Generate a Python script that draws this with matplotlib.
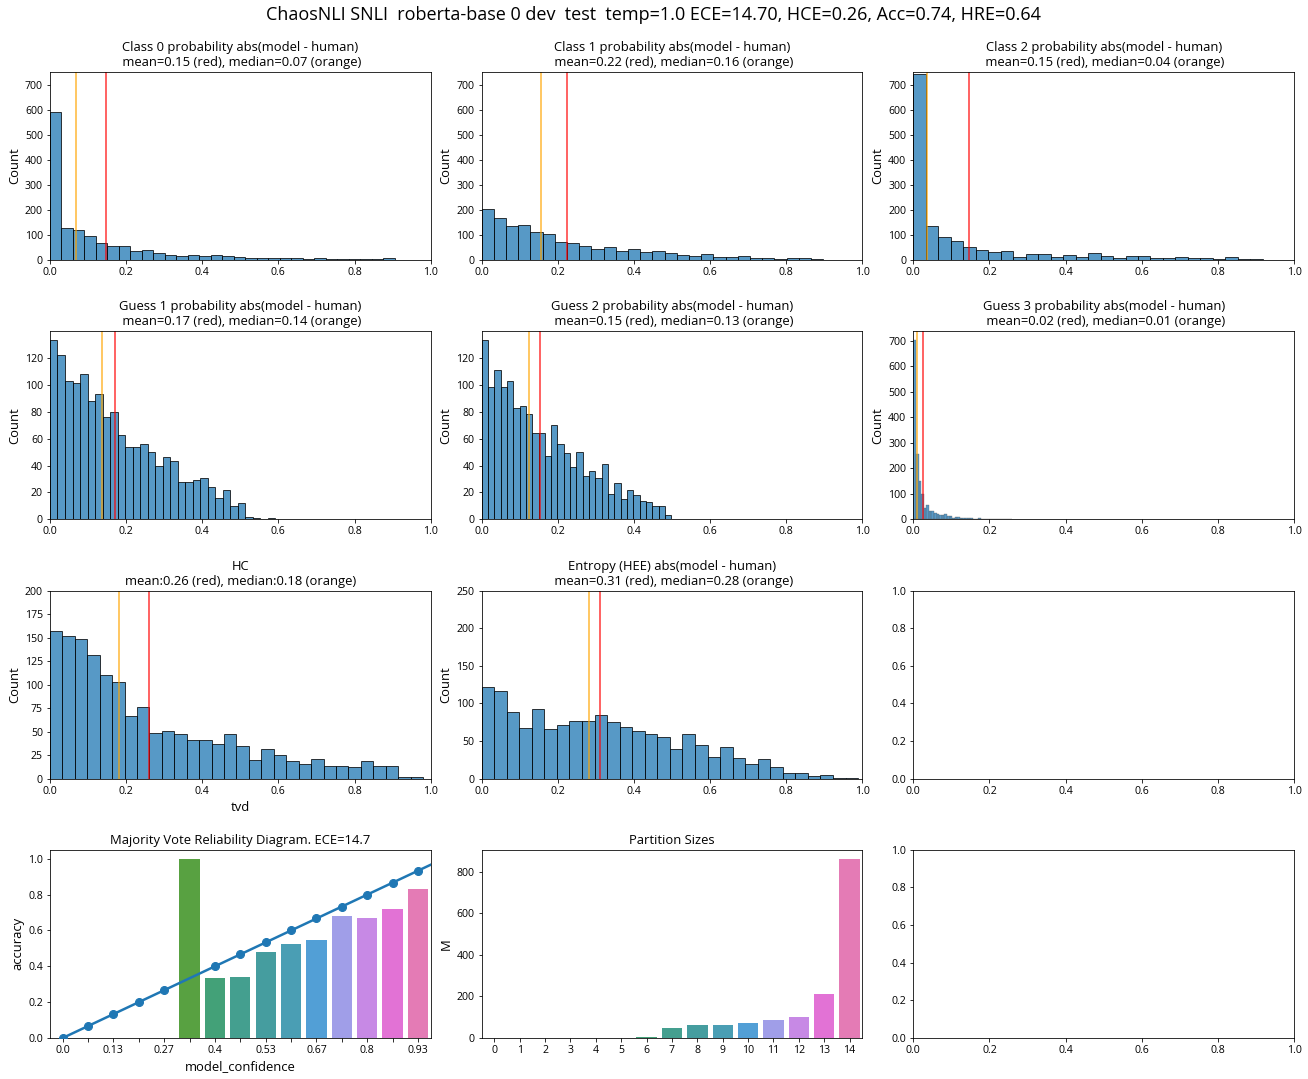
import numpy as np
import matplotlib
matplotlib.use("Agg")
import matplotlib.pyplot as plt
import seaborn as sns

plt.rcParams['font.family'] = ['Open Sans', 'DejaVu Sans']

suptitle = "ChaosNLI SNLI  roberta-base 0 dev  test  temp=1.0 ECE=14.70, HCE=0.26, Acc=0.74, HRE=0.64"

# histogram counts (bins span 0 .. max of data)
class0_counts = [592, 130, 122, 95, 70, 55, 58, 35, 42, 30, 22, 15, 22, 18, 22,
                 18, 14, 10, 10, 10, 7, 7, 3, 7, 3, 3, 3, 3, 3, 7]
class0_max = 0.906
class1_counts = [204, 168, 136, 140, 112, 104, 72, 68, 56, 44, 52, 36, 44, 32,
                 36, 28, 20, 16, 24, 12, 12, 16, 8, 8, 4, 8, 8, 4]
class1_max = 0.897
class2_counts = [741, 135, 92, 76, 52, 40, 32, 35, 12, 23, 23, 12, 20, 12, 28,
                 16, 8, 16, 16, 8, 8, 12, 8, 8, 4, 12, 4, 4]
class2_max = 0.918
guess1_counts = [133, 122, 103, 101, 108, 88, 93, 76, 80, 63, 54, 54, 56, 50, 40,
                 46, 43, 28, 28, 29, 31, 24, 16, 22, 10, 12, 2, 1, 0, 1]
guess1_max = 0.592
guess2_counts = [133, 98, 111, 98, 103, 83, 84, 78, 64, 64, 47, 70, 56, 49, 39,
                 50, 32, 36, 31, 41, 19, 27, 15, 22, 18, 14, 13, 10, 10, 3]
guess2_max = 0.498
guess3_counts = [703, 255, 149, 98, 45, 58, 33, 33, 25, 20, 18, 16, 20, 12, 12,
                 7, 9, 8, 6, 6, 5, 4, 5, 3, 3, 4, 3, 2, 3, 2, 2, 3, 2, 1, 2, 2, 1, 2]
guess3_max = 0.258
hc_counts = [157, 152, 149, 131, 110, 103, 67, 76, 49, 51, 48, 41, 41, 37, 48,
             35, 20, 32, 25, 19, 16, 21, 14, 14, 12, 19, 13, 14, 2, 2]
hc_max = 0.98
ent_counts = [122, 117, 89, 68, 93, 66, 72, 77, 77, 85, 76, 69, 64, 60, 56,
              40, 60, 45, 29, 42, 28, 20, 26, 16, 7, 8, 4, 5, 1, 1]
ent_max = 0.989

means = {'c0': 0.148, 'c1': 0.223, 'c2': 0.146, 'g1': 0.170, 'g2': 0.154,
         'g3': 0.025, 'hc': 0.259, 'ent': 0.310}
medians = {'c0': 0.068, 'c1': 0.157, 'c2': 0.035, 'g1': 0.138, 'g2': 0.125,
           'g3': 0.0097, 'hc': 0.181, 'ent': 0.283}

# reliability diagram (no marker drawn for bin 5 in the original)
conf_labels = [str(round(i / 15, 2)) for i in range(15)]
bin_acc = [0, 0, 0, 0, 0, 1.0, 0.335, 0.34, 0.48, 0.525, 0.545, 0.68, 0.67, 0.72, 0.83]
bin_conf = [0.0, 0.067, 0.133, 0.2, 0.267, np.nan, 0.4, 0.467, 0.533, 0.6,
            0.667, 0.733, 0.8, 0.867, 0.933]
partition_sizes = [0, 0, 0, 0, 0, 0, 5, 48, 63, 63, 72, 87, 101, 212, 862]

fig, axes = plt.subplots(4, 3, figsize=(1308 / 72, 1079 / 72), dpi=72)
plt.subplots_adjust(left=0.0382, right=0.9893, top=0.9333, bottom=0.038,
                    wspace=0.134, hspace=0.378)
fig.suptitle(suptitle, fontsize=18, y=0.994)

hist_color = '#1f77b4'
TITLE_FS = 13
LABEL_FS = 13
TICK_FS = 10.5


def draw_hist(ax, counts, vmax, key, title, ylim=None, lw=1.0, ec='black'):
    edges = np.linspace(0, vmax, len(counts) + 1)
    centers = (edges[:-1] + edges[1:]) / 2
    ax.hist(centers, bins=edges, weights=counts, color=hist_color, alpha=0.75,
            edgecolor=ec, linewidth=lw)
    ax.axvline(means[key], color='red', alpha=0.8, linewidth=1.5)
    ax.axvline(medians[key], color='orange', alpha=0.8, linewidth=1.5)
    ax.set_xlim(0, 1)
    if ylim is not None:
        ax.set_ylim(0, ylim)
    ax.set_ylabel('Count', fontsize=LABEL_FS)
    ax.set_title(title, fontsize=TITLE_FS)
    ax.tick_params(labelsize=TICK_FS)


draw_hist(axes[0, 0], class0_counts, class0_max, 'c0',
          "Class 0 probability abs(model - human)\n mean=0.15 (red), median=0.07 (orange)", 750)
draw_hist(axes[0, 1], class1_counts, class1_max, 'c1',
          "Class 1 probability abs(model - human)\n mean=0.22 (red), median=0.16 (orange)", 750)
draw_hist(axes[0, 2], class2_counts, class2_max, 'c2',
          "Class 2 probability abs(model - human)\n mean=0.15 (red), median=0.04 (orange)", 750)
draw_hist(axes[1, 0], guess1_counts, guess1_max, 'g1',
          "Guess 1 probability abs(model - human)\n mean=0.17 (red), median=0.14 (orange)")
draw_hist(axes[1, 1], guess2_counts, guess2_max, 'g2',
          "Guess 2 probability abs(model - human)\n mean=0.15 (red), median=0.13 (orange)")
draw_hist(axes[1, 2], guess3_counts, guess3_max, 'g3',
          "Guess 3 probability abs(model - human)\n mean=0.02 (red), median=0.01 (orange)",
          lw=0.4, ec='#555555')
draw_hist(axes[2, 0], hc_counts, hc_max, 'hc',
          "HC\nmean:0.26 (red), median:0.18 (orange)", 200)
axes[2, 0].set_xlabel('tvd', fontsize=LABEL_FS)
draw_hist(axes[2, 1], ent_counts, ent_max, 'ent',
          "Entropy (HEE) abs(model - human)\n mean=0.31 (red), median=0.28 (orange)", 250)

for ax in (axes[2, 2], axes[3, 2]):
    ax.tick_params(labelsize=TICK_FS)

# colours like seaborn barplot: husl palette, desaturated
pal = [sns.desaturate(c, 0.75) for c in sns.color_palette('husl', 15)]
pos = np.arange(15)

ax = axes[3, 0]
ax.bar(pos, bin_acc, width=0.8, color=pal)
ax.plot([0, 15], [0, 1], color='#1f77b4', linewidth=2.5, zorder=3)
ax.plot(pos, bin_conf, 'o', color='#1f77b4', markersize=8, zorder=4)
ax.set_xlim(-0.5, 14.5)
ax.set_xticks(pos)
ax.set_xticklabels([l if i % 2 == 0 else '' for i, l in enumerate(conf_labels)])
ax.set_xlabel('model_confidence', fontsize=LABEL_FS)
ax.set_ylabel('accuracy', fontsize=LABEL_FS)
ax.set_title('Majority Vote Reliability Diagram. ECE=14.7', fontsize=TITLE_FS)
ax.tick_params(labelsize=TICK_FS)

ax = axes[3, 1]
ax.bar(pos, partition_sizes, width=0.8, color=pal)
ax.set_xlim(-0.5, 14.5)
ax.set_xticks(pos)
ax.set_xticklabels([str(i) for i in pos])
ax.set_ylabel('M', fontsize=LABEL_FS)
ax.set_title('Partition Sizes', fontsize=TITLE_FS)
ax.tick_params(labelsize=TICK_FS)

fig.savefig('out.png', dpi=72)
